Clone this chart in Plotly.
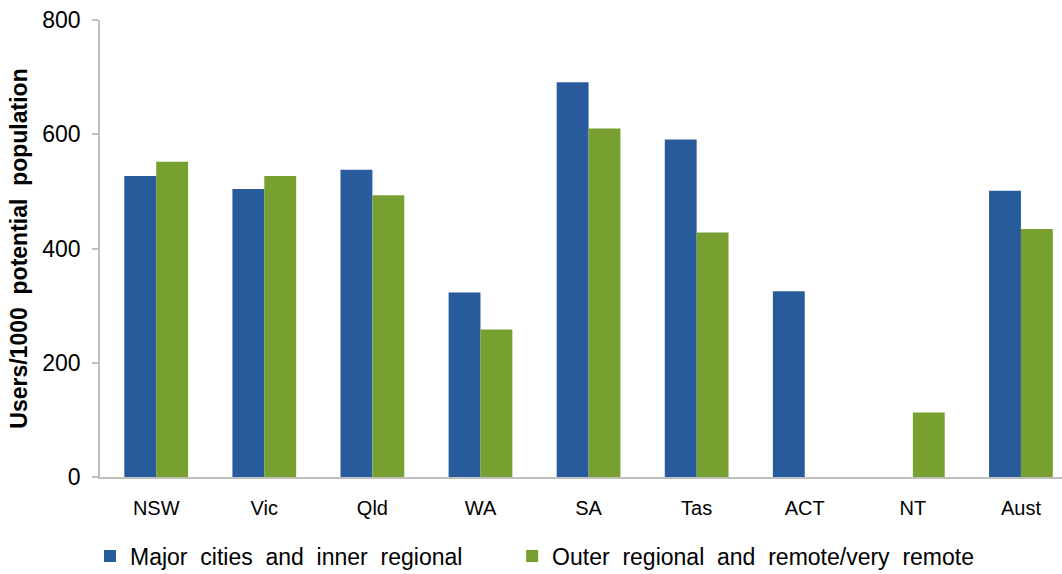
import plotly.graph_objects as go

categories = ["NSW", "Vic", "Qld", "WA", "SA", "Tas", "ACT", "NT", "Aust"]
major_inner = [527, 504, 538, 323, 691, 591, 325, None, 501]
outer_remote = [552, 527, 493, 258, 610, 428, None, 113, 434]
y_ticks = [0, 200, 400, 600, 800]

BLUE = "#285B9B"
GREEN = "#78A031"
FONT = "Liberation Sans, Arial, sans-serif"
PAD = "\u00a0" * 7

fig = go.Figure()
fig.add_trace(go.Bar(
    x=categories, y=major_inner, name="Major  cities  and  inner  regional" + PAD,
    marker=dict(color=BLUE, line=dict(width=0)),
))
fig.add_trace(go.Bar(
    x=categories, y=outer_remote, name="Outer  regional  and  remote/very  remote",
    marker=dict(color=GREEN, line=dict(width=0)),
))

fig.update_layout(
    width=1062, height=574,
    margin=dict(l=100, r=0, t=20, b=97, autoexpand=False),
    paper_bgcolor="white", plot_bgcolor="white",
    barmode="group", bargap=0.41, bargroupgap=0,
    font=dict(family=FONT, size=21, color="black"),
    showlegend=True,
    legend=dict(
        orientation="h", x=-0.0104, xanchor="left", y=-0.173, yanchor="middle",
        font=dict(family=FONT, size=23, color="black"),
        itemwidth=30, traceorder="normal",
    ),
    xaxis=dict(
        range=[-0.52, 8.38], automargin=False,
        showline=True, linecolor="#BFBFBF", linewidth=2,
        ticks="", showgrid=False, ticklabelstandoff=12,
        tickfont=dict(family=FONT, size=20),
    ),
    yaxis=dict(
        range=[0, 800], tickvals=y_ticks, automargin=False,
        showline=True, linecolor="#BFBFBF", linewidth=1.5,
        ticks="outside", ticklen=6, tickcolor="#BFBFBF", tickwidth=1.5,
        showgrid=False, zeroline=False, ticklabelstandoff=7,
        tickfont=dict(family=FONT, size=23),
        title=dict(text="<b>Users/1000  potential  population</b>",
                   font=dict(family=FONT, size=23), standoff=8),
    ),
)

fig.write_html(
    "out.html",
    config={"displayModeBar": False},
    post_script="document.body.style.margin='0';document.body.style.overflow='hidden';",
)
